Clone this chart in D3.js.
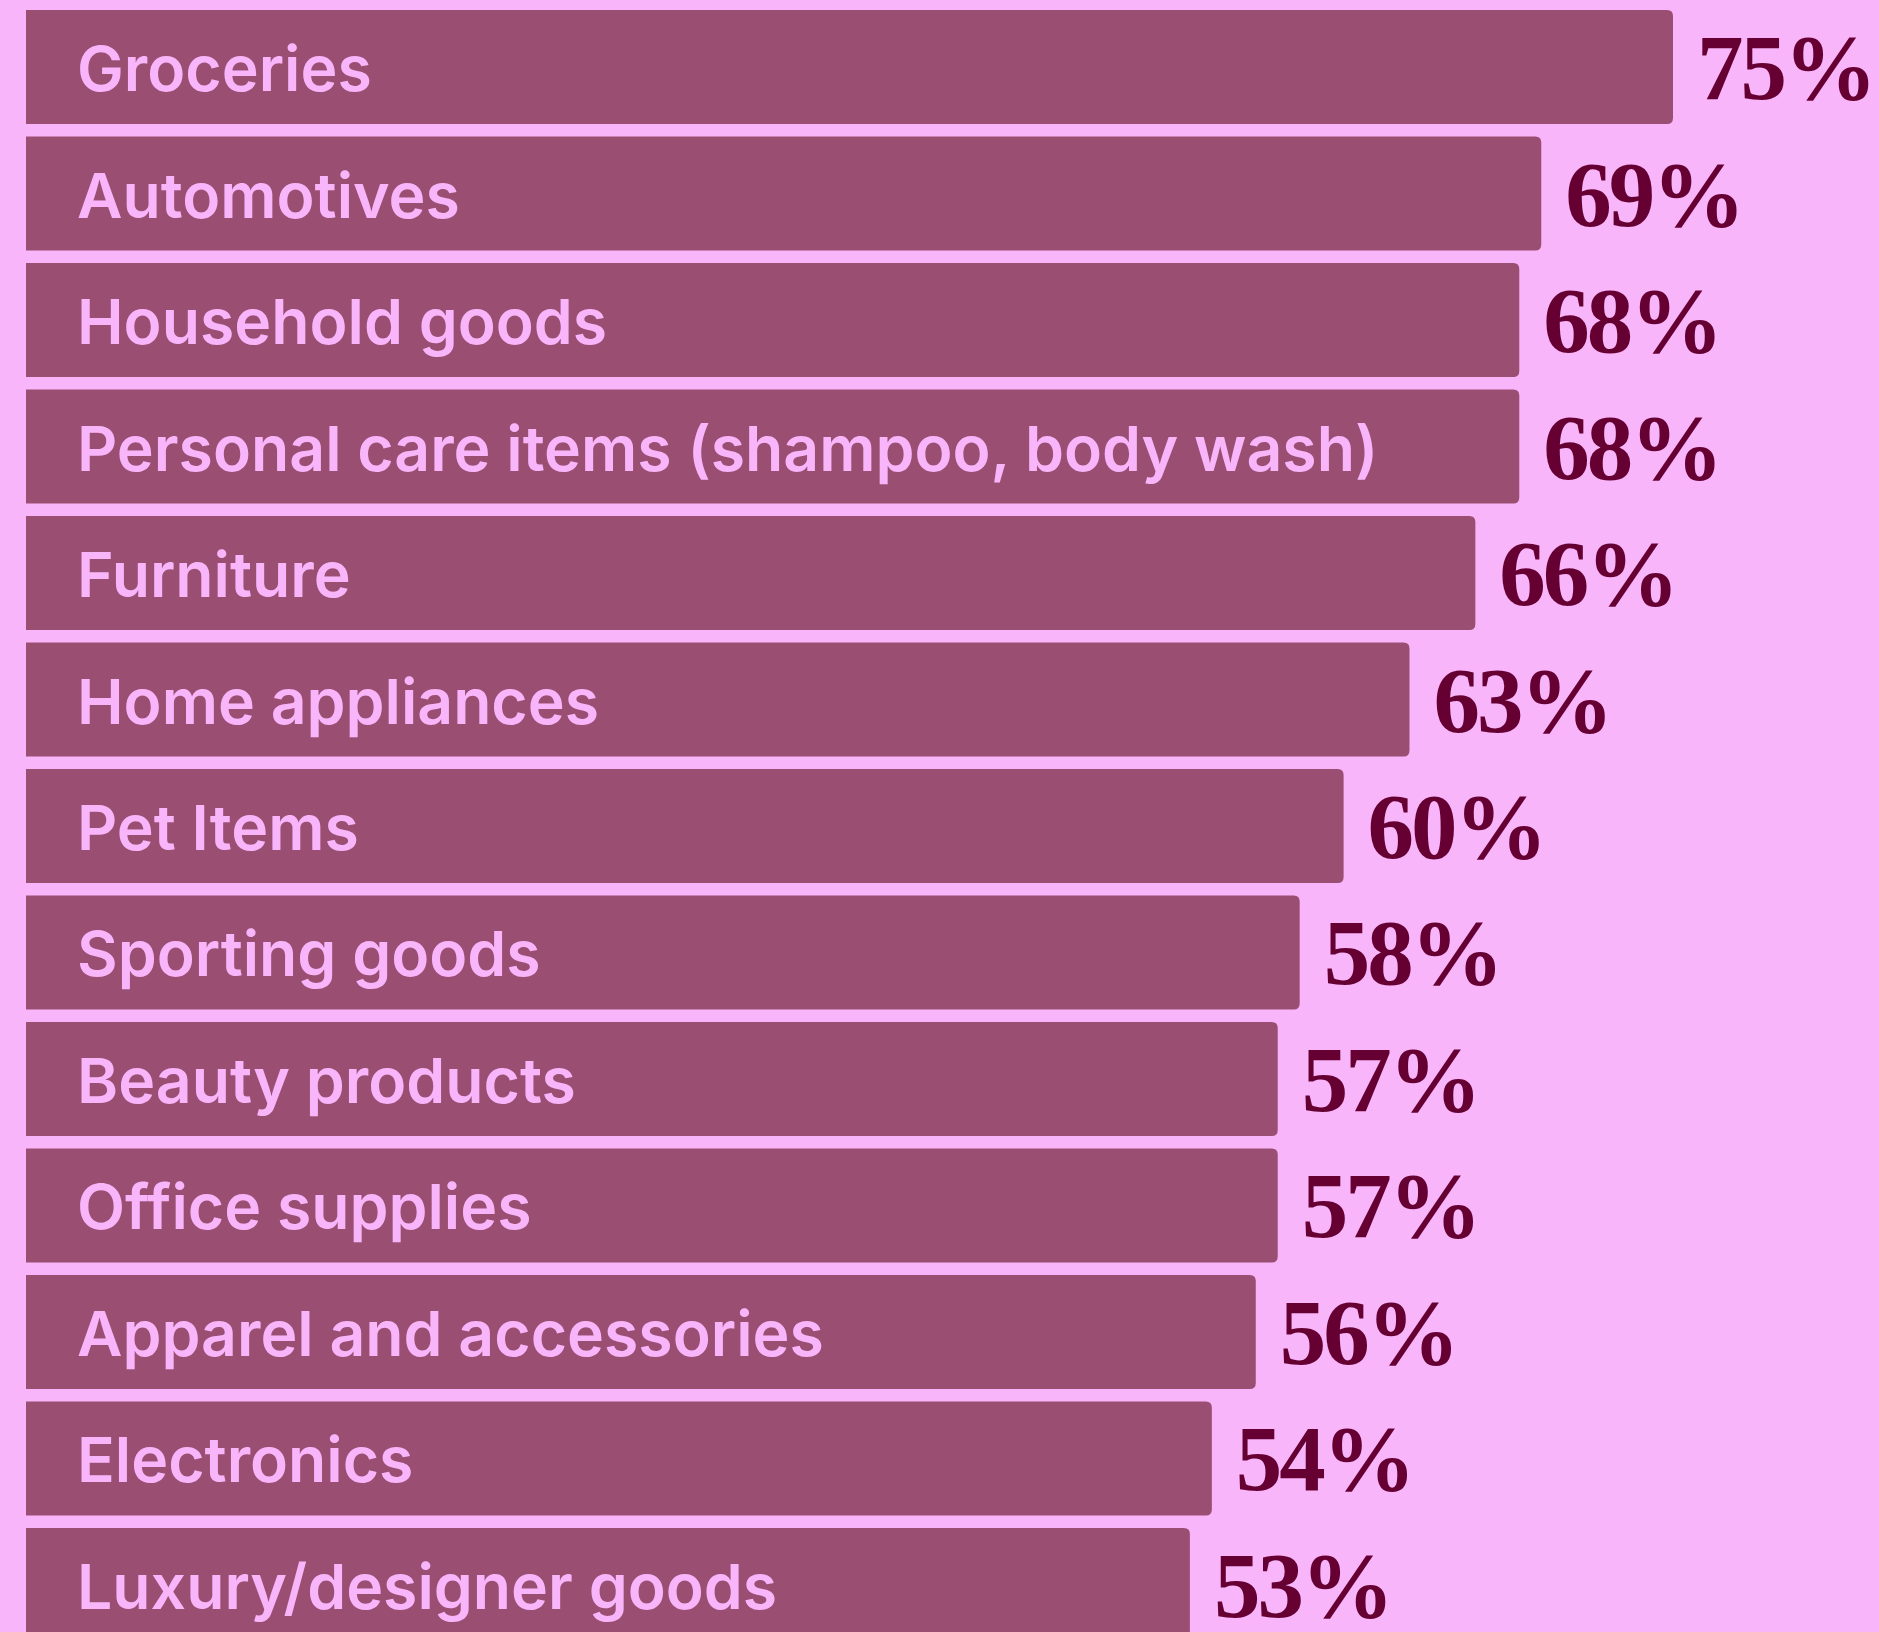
<!DOCTYPE html>
<html>
<head>
<meta charset="utf-8">
<script src="https://cdn.jsdelivr.net/npm/d3@7"></script>
<style>
  html, body { margin: 0; padding: 0; background: #f8b5fa; }
  svg { display: block; }
</style>
</head>
<body>
<svg id="chart" width="1879" height="1632"></svg>
<script>
// Share of shoppers by product category (percent)
const categories = [
  "Groceries",
  "Automotives",
  "Household goods",
  "Personal care items (shampoo, body wash)",
  "Furniture",
  "Home appliances",
  "Pet Items",
  "Sporting goods",
  "Beauty products",
  "Office supplies",
  "Apparel and accessories",
  "Electronics",
  "Luxury/designer goods"
];
const values = [75, 69, 68, 68, 66, 63, 60, 58, 57, 57, 56, 54, 53];
const valueLabels = values.map(v => v + "%");

const W = 1879, H = 1632;
const svg = d3.select("#chart");

svg.append("rect").attr("width", W).attr("height", H).attr("fill", "#f8b5fa");

const x = d3.scaleLinear().domain([0, 100]).range([26, 26 + 2196]);
const y = d3.scaleBand().domain(categories).range([10, 1642]).paddingInner(0.0988).paddingOuter(0);

const data = categories.map((c, i) => ({ cat: c, value: values[i], label: valueLabels[i] }));

// bar with square left end and rounded right end
function barPath(x0, x1, y0, h, r) {
  return `M${x0},${y0}H${x1 - r}Q${x1},${y0} ${x1},${y0 + r}V${y0 + h - r}Q${x1},${y0 + h} ${x1 - r},${y0 + h}H${x0}Z`;
}

const g = svg.append("g");
const rows = g.selectAll("g.row").data(data).join("g").attr("class", "row");

rows.append("path")
  .attr("d", d => barPath(x(0), x(d.value), y(d.cat), y.bandwidth(), 6))
  .attr("fill", "#994e72");

rows.append("text")
  .attr("x", x(0) + 51)
  .attr("y", d => y(d.cat) + y.bandwidth() / 2 + 24)
  .attr("fill", "#f8b5fa")
  .attr("font-family", "Inter, 'Open Sans', sans-serif")
  .attr("font-weight", 600)
  .attr("font-size", 62.5)
  .text(d => d.cat);

rows.append("text")
  .attr("x", d => x(d.value) + 24)
  .attr("y", d => y(d.cat) + y.bandwidth() / 2 + 32)
  .attr("fill", "#660033")
  .attr("font-family", "'Liberation Serif', serif")
  .attr("font-weight", 700)
  .attr("font-size", 93)
  .attr("letter-spacing", -3)
  .text(d => d.label);
</script>
</body>
</html>
